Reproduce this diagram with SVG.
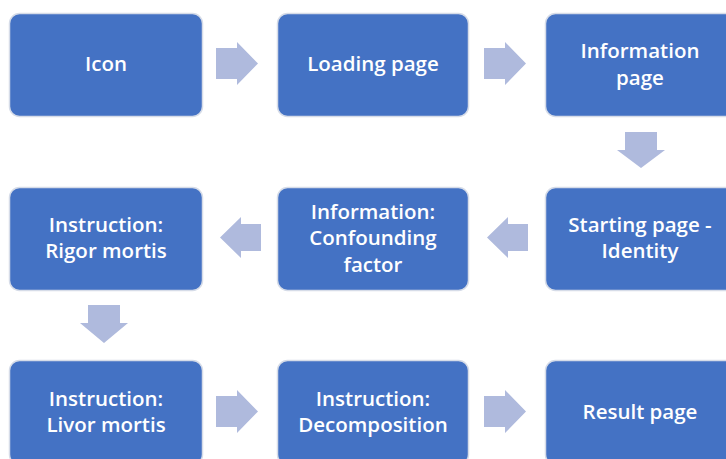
<svg xmlns="http://www.w3.org/2000/svg" width="726" height="459" viewBox="0 0 726 459">
<style>
.box{fill:#4472C4;stroke:#D6DCE8;stroke-width:1.5}
.arr{fill:#AFBADD}
text{font-family:"Open Sans","Liberation Sans",sans-serif;font-weight:600;font-size:20.5px;fill:#FFFFFF;text-anchor:middle;dominant-baseline:central}
</style>
<rect width="726" height="459" fill="#FFFFFF"/>
<g id="connectors">
<polygon class="arr" points="216,48 237,48 237,42 258,63.5 237,85 237,79 216,79"/>
<polygon class="arr" points="484,48 505,48 505,42 526,63.5 505,85 505,79 484,79"/>
<polygon class="arr" points="625,132 657,132 657,150 665,150 641,168 617,150 625,150"/>
<polygon class="arr" points="528,224 508,224 508,217 487,237.5 508,258 508,251 528,251"/>
<polygon class="arr" points="261,224 241,224 241,217 220,237.5 241,258 241,251 261,251"/>
<polygon class="arr" points="88,305 120,305 120,323 128,323 104,343 80,323 88,323"/>
<polygon class="arr" points="216,396 237,396 237,390 258,411.5 237,433 237,427 216,427"/>
<polygon class="arr" points="484,396 505,396 505,390 526,411.5 505,433 505,427 484,427"/>
</g>
<g id="icon"><rect class="box" x="9.5" y="13.5" width="193" height="103" rx="10"/><text x="106" y="63">Icon</text></g>
<g id="loading"><rect class="box" x="277.5" y="13.5" width="191" height="103" rx="10"/><text x="373" y="63">Loading page</text></g>
<g id="information"><rect class="box" x="545.5" y="13.5" width="192" height="103" rx="10"/><text x="640" y="50">Information</text><text x="640" y="77">page</text></g>
<g id="starting"><rect class="box" x="545.5" y="187.5" width="192" height="103" rx="10"/><text x="640" y="224">Starting page -</text><text x="640" y="250">Identity</text></g>
<g id="confounding"><rect class="box" x="277.5" y="187.5" width="191" height="103" rx="10"/><text x="373" y="211">Information:</text><text x="373" y="237">Confounding</text><text x="373" y="264">factor</text></g>
<g id="rigor"><rect class="box" x="9.5" y="187.5" width="193" height="103" rx="10"/><text x="106" y="224">Instruction:</text><text x="106" y="250">Rigor mortis</text></g>
<g id="livor"><rect class="box" x="9.5" y="360.5" width="193" height="104" rx="10"/><text x="106" y="398">Instruction:</text><text x="106" y="424">Livor mortis</text></g>
<g id="decomposition"><rect class="box" x="277.5" y="360.5" width="191" height="104" rx="10"/><text x="373" y="398">Instruction:</text><text x="373" y="424">Decomposition</text></g>
<g id="result"><rect class="box" x="545.5" y="360.5" width="192" height="104" rx="10"/><text x="640" y="411">Result page</text></g>
</svg>
